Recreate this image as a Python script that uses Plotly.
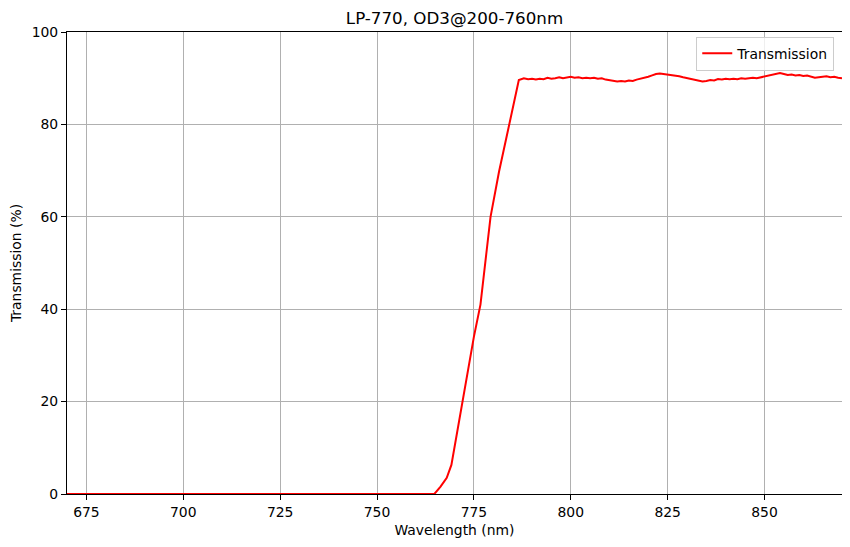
import plotly.graph_objects as go

wavelength_nm = [670, 700, 730, 764.8, 766.4, 768.0, 769.2, 772.0, 775.0, 776.7, 779.3, 781.5, 782.8, 784.5, 786.6, 787.9,
                 789, 790, 791, 792, 793, 794, 795, 796, 797, 798, 799, 800, 801, 802, 803, 804, 805, 806, 807, 808,
                 809, 810, 811, 812, 813, 814, 815, 816, 817, 818, 819, 820, 821, 822, 823, 824, 825, 826, 827, 828,
                 829, 830, 831, 832, 833, 834, 835, 836, 837, 838, 839, 840, 841, 842, 843, 844, 845, 846, 847, 848,
                 849, 850, 851, 852, 853, 854, 855, 856, 857, 858, 859, 860, 861, 862, 863, 864, 865, 866, 867, 868,
                 869, 870]
transmission_pct = [0, 0, 0, 0, 1.6, 3.5, 6.3, 20.0, 34.0, 41.0, 60.0, 69.8, 74.8, 81.3, 89.6, 90.0,
                    89.8, 89.9, 89.7, 89.9, 89.8, 90.1, 89.9, 90.0, 90.2, 90.0, 90.1, 90.3, 90.1, 90.2, 90.0, 90.1, 90.0, 90.1, 89.9, 90.0,
                    89.7, 89.6, 89.5, 89.3, 89.4, 89.3, 89.5, 89.4, 89.7, 89.9, 90.0, 90.3, 90.6, 90.9, 91.0, 90.9, 90.8, 90.6, 90.5, 90.4,
                    90.2, 90.0, 89.9, 89.7, 89.5, 89.3, 89.4, 89.6, 89.5, 89.8, 89.7, 89.9, 89.8, 89.9, 89.8, 90.0, 89.9, 90.0, 90.1, 90.0,
                    90.2, 90.3, 90.6, 90.8, 90.9, 91.1, 90.9, 90.7, 90.8, 90.6, 90.7, 90.5, 90.6, 90.3, 90.1, 90.2, 90.3, 90.4, 90.2, 90.3,
                    90.1, 90.0]

x_ticks = [675, 700, 725, 750, 775, 800, 825, 850]
y_ticks = [0, 20, 40, 60, 80, 100]

FONT = "DejaVu Sans"

# The page body adds an 8px offset, so the figure is sized to fill the remaining window.
FIG_W, FIG_H = 842, 539

fig = go.Figure()
fig.add_trace(go.Scatter(
    x=wavelength_nm, y=transmission_pct, mode="lines", name="Transmission",
    line=dict(color="red", width=2),
))

axis_common = dict(
    showline=True, linecolor="black", linewidth=1.1, mirror=True,
    ticks="outside", ticklen=5, tickwidth=1.1, tickcolor="black",
    showgrid=True, gridcolor="#b0b0b0", gridwidth=1.1,
    zeroline=False, automargin=False,
    tickfont=dict(family=FONT, size=13.9, color="black"),
)

fig.update_layout(
    width=FIG_W, height=FIG_H,
    margin=dict(l=59, r=8, t=24, b=53),
    paper_bgcolor="white", plot_bgcolor="white",
    font=dict(family=FONT, color="black"),
    title=dict(text="LP-770, OD3@200-760nm", x=0.5, xref="paper", xanchor="center",
               y=1 - 10 / FIG_H, yanchor="middle", font=dict(family=FONT, size=16.7, color="black")),
    xaxis=dict(range=[670, 870], tickvals=x_ticks,
               title=dict(text="Wavelength (nm)", font=dict(family=FONT, size=13.9), standoff=6),
               **axis_common),
    yaxis=dict(range=[0, 100], tickvals=y_ticks,
               title=dict(text="Transmission (%)", font=dict(family=FONT, size=13.9), standoff=8),
               **axis_common),
    showlegend=True,
    legend=dict(x=0.99, xanchor="right", y=0.99, yanchor="top",
                bgcolor="rgba(255,255,255,0.8)", bordercolor="#cccccc", borderwidth=1,
                font=dict(family=FONT, size=13.9, color="black")),
)

fig.write_html("out.html")
